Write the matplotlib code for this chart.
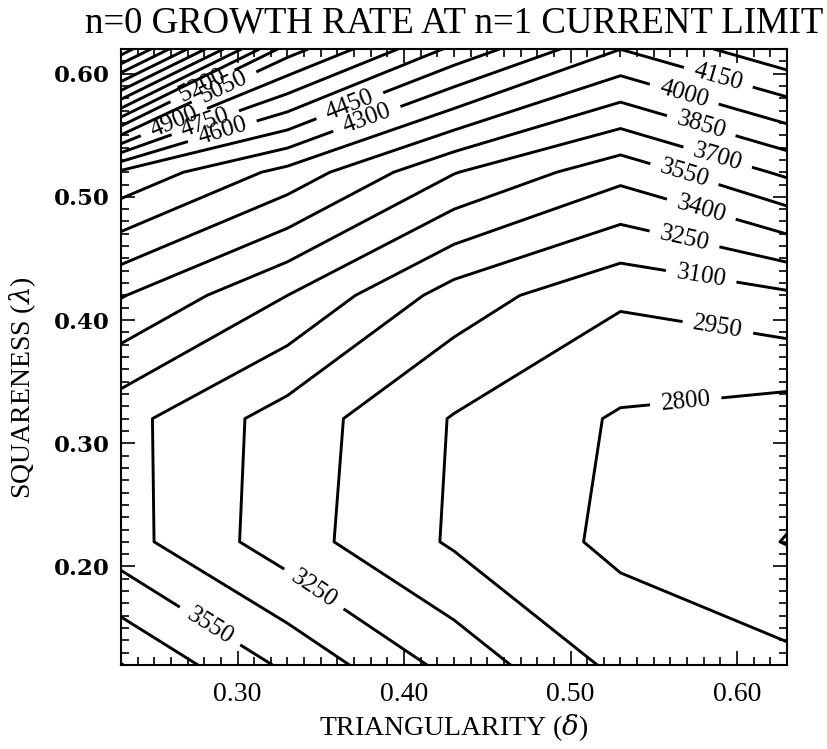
import numpy as np
import matplotlib
matplotlib.use("Agg")
import matplotlib.pyplot as plt
from matplotlib.ticker import MultipleLocator, FormatStrFormatter

plt.rcParams["mathtext.fontset"] = "dejavuserif"

# grid coordinates
delta = [0.23, 0.33, 0.43, 0.53, 0.63]          # triangularity
lam = [0.12, 0.22, 0.32, 0.42, 0.52, 0.62]      # squareness

# growth rate values, one row per squareness value
row_012 = [3855, 3520, 3198, 2910, 2836]
row_022 = [3458, 3166, 2930, 2763, 2645]
row_032 = [3451, 3181, 2940, 2783, 2723]
row_042 = [3860, 3550, 3182, 2975, 3073]
row_052 = [4420, 4100, 3708, 3452, 3730]
row_062 = [6500, 5120, 4563, 4152, 4417]

levels = list(range(2650, 6700, 150))

# label anchor points (delta, lambda) near the labelled contours
label_pos = [(0.569, 0.337), (0.589, 0.398), (0.579, 0.440), (0.569, 0.469),
             (0.579, 0.492), (0.569, 0.521), (0.589, 0.535), (0.579, 0.560),
             (0.568, 0.582), (0.589, 0.598), (0.378, 0.562), (0.368, 0.572),
             (0.292, 0.548), (0.282, 0.555), (0.262, 0.560), (0.293, 0.586),
             (0.279, 0.590), (0.347, 0.184), (0.285, 0.155)]

Z = np.array([row_012, row_022, row_032, row_042, row_052, row_062])
D, L = np.meshgrid(delta, lam)

fig = plt.figure(figsize=(8.27, 7.49), dpi=100)
ax = fig.add_axes([0.1463, 0.1121, 0.9516 - 0.1463, 0.9346 - 0.1121])

cs = ax.contour(D, L, Z, levels=levels, colors="black", linewidths=2.1)
ax.clabel(cs, manual=label_pos, fmt="%d", fontsize=18, inline=True,
          inline_spacing=4)
for t in cs.labelTexts:
    t.set_fontfamily("Liberation Serif")

ax.set_xlim(0.23, 0.63)
ax.set_ylim(0.12, 0.62)
ax.xaxis.set_major_locator(MultipleLocator(0.1))
ax.xaxis.set_minor_locator(MultipleLocator(0.01))
ax.yaxis.set_major_locator(MultipleLocator(0.1))
ax.yaxis.set_minor_locator(MultipleLocator(0.01))
ax.xaxis.set_major_formatter(FormatStrFormatter("%.2f"))
ax.yaxis.set_major_formatter(FormatStrFormatter("%.2f"))
ax.tick_params(which="both", direction="in", top=True, right=True, width=1.2)
ax.tick_params(which="major", length=10)
ax.tick_params(which="minor", length=6)
for lbl in ax.get_xticklabels():
    lbl.set_fontfamily("Liberation Serif")
    lbl.set_fontsize(20)
for lbl in ax.get_yticklabels():
    lbl.set_fontfamily("DejaVu Serif")
    lbl.set_fontsize(16.5)
    lbl.set_fontweight("bold")
ax.tick_params(axis="x", pad=12)
ax.tick_params(axis="y", pad=8)
for s in ax.spines.values():
    s.set_linewidth(1.5)

ax.set_xlabel("TRIANGULARITY ($\\delta$)", fontfamily="Liberation Serif",
              fontsize=20, labelpad=4)
ax.set_ylabel("SQUARENESS ($\\lambda$)", fontfamily="Liberation Serif",
              fontsize=20)
ax.yaxis.set_label_coords(-0.124, 0.45)
fig.text(0.549, 0.969, "n=0 GROWTH RATE AT n=1 CURRENT LIMIT",
         fontfamily="Liberation Serif", fontsize=26.5, ha="center", va="center")

fig.savefig("out.png", dpi=100)
